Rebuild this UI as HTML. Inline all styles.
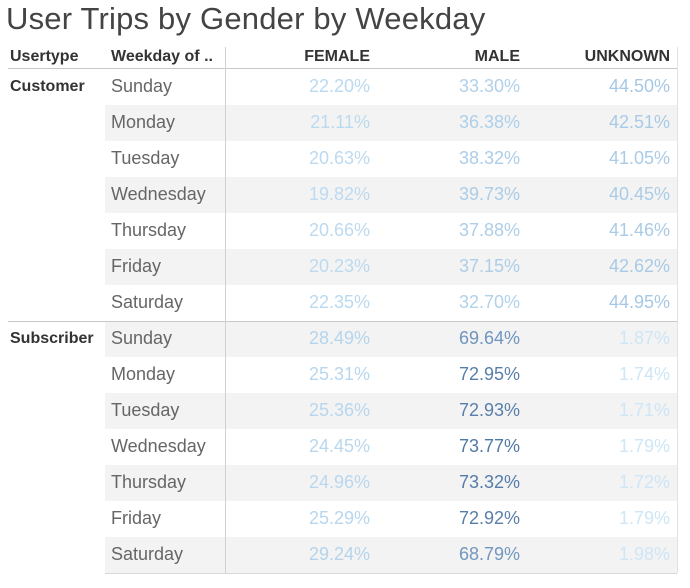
<!DOCTYPE html>
<html><head><meta charset="utf-8"><style>
body{margin:0;background:#fff;width:690px;height:588px;overflow:hidden;font-family:"Liberation Sans",sans-serif;}
#title{position:absolute;left:6px;top:1px;font-size:31px;color:#444;font-weight:normal;letter-spacing:0.2px}
.t{position:absolute;white-space:nowrap;}
</style></head><body>
<div id="title">User Trips by Gender by Weekday</div>
<div id="tbl"></div>
<script>
const usertypes=["Customer","Subscriber"];
const weekdays=["Sunday","Monday","Tuesday","Wednesday","Thursday","Friday","Saturday"];
const genders=["FEMALE","MALE","UNKNOWN"];
const femaleVals=[22.20,21.11,20.63,19.82,20.66,20.23,22.35,28.49,25.31,25.36,24.45,24.96,25.29,29.24];
const maleVals=[33.30,36.38,38.32,39.73,37.88,37.15,32.70,69.64,72.95,72.93,73.77,73.32,72.92,68.79];
const unknownVals=[44.50,42.51,41.05,40.45,41.46,42.62,44.95,1.87,1.74,1.71,1.79,1.72,1.79,1.98];
const series=[femaleVals,maleVals,unknownVals];
const tbl=document.getElementById('tbl');
const top0=69,rowH=36,colRight=[370,520,670];
function add(tag,css,text){const e=document.createElement(tag);e.style.cssText=css;if(text!==undefined)e.textContent=text;tbl.appendChild(e);return e;}
function color(v){
  const stops=[[0,[208,231,246]],[30,[180,212,236]],[45,[166,200,229]],[70,[110,148,190]],[75,[72,112,160]]];
  for(let i=1;i<stops.length;i++){if(v<=stops[i][0]||i==stops.length-1){const a=stops[i-1],b=stops[i];let t=(v-a[0])/(b[0]-a[0]);t=Math.max(0,Math.min(1,t));
  return 'rgb('+a[1].map((c,k)=>Math.round(c+(b[1][k]-c)*t)).join(',')+')';}}
}
const n=usertypes.length*weekdays.length;
for(let r=0;r<n;r++){if(r%2==1){const b=add('div','position:absolute;left:105px;width:572px;height:'+rowH+'px;top:'+(top0+r*rowH)+'px;background:#f3f3f3');

}}
let l=add('div','position:absolute;left:8px;width:669px;top:68px;height:1px;background:#c8c8c8');


l=add('div','position:absolute;left:8px;width:669px;top:'+(top0+7*rowH)+'px;height:1px;background:#c8c8c8');


l=add('div','position:absolute;left:105px;width:572px;top:'+(top0+14*rowH)+'px;height:1px;background:#d8d8d8');


l=add('div','position:absolute;left:225px;width:1px;top:47px;height:'+(top0+14*rowH-47)+'px;background:#d0d0d0');


l=add('div','position:absolute;left:677px;width:1px;top:47px;height:'+(top0+14*rowH-47)+'px;background:#e2e2e2');


const hcss='font-weight:bold;font-size:16px;color:#333;top:48px;';
let h=add('div','position:absolute;left:10px;'+hcss,'Usertype');


h=add('div','position:absolute;left:111px;'+hcss,'Weekday of ..');


genders.forEach((g,i)=>{const e=add('div','position:absolute;right:'+(690-colRight[i])+'px;'+hcss,g);

});
usertypes.forEach((u,gi)=>{const e=add('div','position:absolute;left:10px;font-weight:bold;font-size:16px;color:#333;top:'+(top0+gi*7*rowH+9)+'px',u);

});
for(let r=0;r<n;r++){
  const y=top0+r*rowH+7;
  const d=add('div','position:absolute;left:111px;font-size:18px;color:#666;top:'+y+'px',weekdays[r%7]);
  
  
  series.forEach((s,i)=>{const c=add('div','position:absolute;right:'+(690-colRight[i])+'px;font-size:18px;top:'+y+'px;color:'+color(s[r]),s[r].toFixed(2)+'%');
  
  });
}
</script>
</body></html>
